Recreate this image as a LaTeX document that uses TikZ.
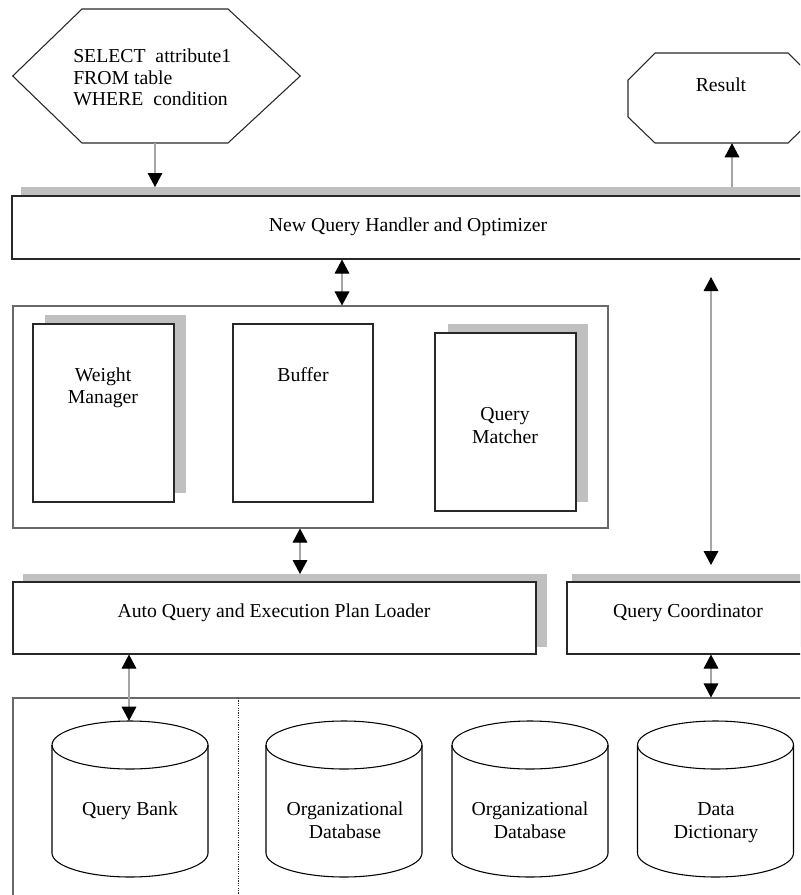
\documentclass[tikz,border=0pt]{standalone}
\usepackage{fontspec}
\setmainfont{Liberation Serif}
\usetikzlibrary{arrows.meta}
\definecolor{shadowgray}{RGB}{192,192,192}
\definecolor{boxline}{RGB}{40,40,40}
\definecolor{frameline}{RGB}{105,105,105}
\definecolor{shaftgray}{RGB}{165,165,165}
\newcommand\dbcyl[1]{%
  \draw[cylline] (#1,745) ellipse [x radius=78, y radius=24];
  \draw[cylline] ({#1-78},745) -- ({#1-78},853)
    .. controls ({#1-78},866.25) and ({#1-43},877) .. (#1,877)
    .. controls ({#1+43},877) and ({#1+78},866.25) .. ({#1+78},853) -- ({#1+78},745);
}
\begin{document}
\begin{tikzpicture}[x=0.75pt,y=-0.75pt,
  box/.style={rectangle, draw=boxline, fill=white, line width=0.8pt, inner sep=0pt},
  frame/.style={rectangle, draw=frameline, line width=0.8pt, inner sep=0pt},
  shade/.style={fill=shadowgray},
  polyline/.style={draw=boxline, line width=0.8pt, line join=miter},
  hold/.style={rectangle, draw=none, inner sep=0pt},
  cylnode/.style={rectangle, draw=none, inner sep=0pt, minimum width=156*0.75pt, minimum height=156*0.75pt},
  cylline/.style={draw=black, line width=0.8pt},
  lbl/.style={anchor=base, inner sep=0pt, font=\fontsize{14.8}{17}\selectfont},
  arr/.style={draw=shaftgray, line width=0.8pt, -{Triangle[length=10.5pt,width=11pt,color=black,fill=black]}},
  arrr/.style={draw=shaftgray, line width=0.8pt, {Triangle[length=10.5pt,width=11pt,color=black,fill=black]}-{Triangle[length=10.5pt,width=11pt,color=black,fill=black]}},
  dotline/.style={draw=boxline, line width=0.6pt, dash pattern=on 0.9pt off 0.9pt}
]
\useasboundingbox (0,0) rectangle (800,895);
\clip (0,0) rectangle (800,895);
\fill[white] (0,0) rectangle (800,895);

% SQL hexagon and result octagon
\node[hold, minimum width=287*0.75pt, minimum height=134*0.75pt] (sql) at (156.5,76) {};
\draw[polyline] (sql.west) -- (82,9) -- (228,9) -- (sql.east) -- (228,143) -- (82,143) -- cycle;
\node[lbl, anchor=base west] (s1) at (73,63) {SELECT\ \ attribute1};
\node[lbl, anchor=base west] (s2) at (73,84.5) {FROM table};
\node[lbl, anchor=base west] (s3) at (73,106) {WHERE\ \ condition};

\node[hold, minimum width=187*0.75pt, minimum height=90*0.75pt] (res) at (721.5,98) {};
\draw[polyline] (628,80) -- (655,53) -- (788,53) -- (815,80) -- (815,117) -- (788,143) -- (655,143) -- (628,117) -- cycle;
\node[lbl] (rest) at (721,92) {Result};

% New Query Handler and Optimizer
\fill[shade] (21,187) rectangle (850,250);
\node[box, minimum width=828*0.75pt, minimum height=63*0.75pt] (nq) at (426,227.5) {};
\node[lbl] (nqt) at (408,231) {New Query Handler and Optimizer};

% middle frame
\node[frame, minimum width=595*0.75pt, minimum height=222*0.75pt] (mid) at (310.5,417) {};
\fill[shade] (45,315) rectangle (186,493);
\node[box, minimum width=141*0.75pt, minimum height=178*0.75pt] (wm) at (103.5,413) {};
\node[lbl] (wmt1) at (103,381) {Weight};
\node[lbl] (wmt2) at (103,403) {Manager};
\node[box, minimum width=140*0.75pt, minimum height=178*0.75pt] (buf) at (303,413) {};
\node[lbl] (buft) at (303,381) {Buffer};
\fill[shade] (448,324) rectangle (588,502);
\node[box, minimum width=141*0.75pt, minimum height=178*0.75pt] (qm) at (505.5,422) {};
\node[lbl] (qmt1) at (505,420) {Query};
\node[lbl] (qmt2) at (505,443) {Matcher};

% loader and coordinator
\fill[shade] (23,574) rectangle (547,647);
\node[box, minimum width=523*0.75pt, minimum height=72*0.75pt] (aq) at (274.5,618) {};
\node[lbl] (aqt) at (274,617) {Auto Query and Execution Plan Loader};
\fill[shade] (572,574) rectangle (860,647);
\node[box, minimum width=278*0.75pt, minimum height=72*0.75pt] (qc) at (706,618) {};
\node[lbl] (qct) at (688,617) {Query Coordinator};

% bottom frame with databases
\node[frame, minimum width=832*0.75pt, minimum height=227*0.75pt] (bb) at (429,811.5) {};
\coordinate (dtop) at (238,698);
\coordinate (dbot) at (238,895);
\draw[dotline] (dtop) -- (dbot);

\dbcyl{130}
\node[cylnode] (qb) at (130,799) {};
\node[lbl] (qbt) at (130,815) {Query Bank};
\dbcyl{344}
\node[cylnode] (od1) at (344,799) {};
\node[lbl] (od1a) at (345,815) {Organizational};
\node[lbl] (od1b) at (345,838) {Database};
\dbcyl{530}
\node[cylnode] (od2) at (530,799) {};
\node[lbl] (od2a) at (530,815) {Organizational};
\node[lbl] (od2b) at (530,838) {Database};
\dbcyl{715.5}
\node[cylnode] (dd) at (715.5,799) {};
\node[lbl] (dda) at (716,815) {Data};
\node[lbl] (ddb) at (716,838) {Dictionary};

% connectors
\coordinate (xa) at (155,0);
\coordinate (xr) at (732,0);
\coordinate (xb) at (342,0);
\coordinate (xc) at (300,0);
\coordinate (xq) at (129,0);
\coordinate (xk) at (711,0);
\coordinate (nqshadow1) at (155,187);
\coordinate (nqshadow2) at (732,187);
\coordinate (aqshadow) at (300,574);
\coordinate (qca) at (711,277);
\coordinate (qcb) at (711,565);

\draw[arr] (sql.south -| xa) -- (nqshadow1);
\draw[arr] (nqshadow2) -- (res.south -| xr);
\draw[arrr] (nq.south -| xb) -- (mid.north -| xb);
\draw[arrr] (mid.south -| xc) -- (aqshadow);
\draw[arrr] (qca) -- (qcb);
\draw[arrr] (aq.south -| xq) -- (qb.north -| xq);
\draw[arrr] (qc.south -| xk) -- (bb.north -| xk);
\end{tikzpicture}
\end{document}
